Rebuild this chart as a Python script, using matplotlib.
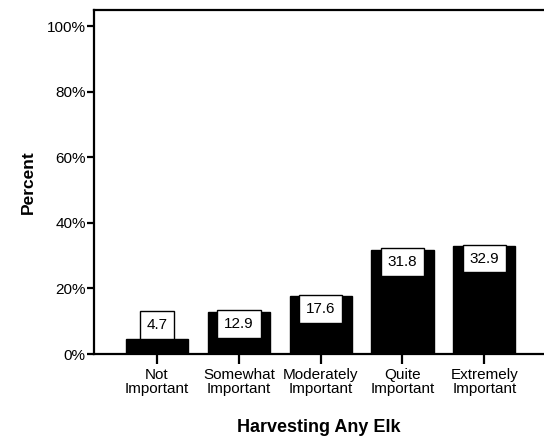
import matplotlib
matplotlib.use("Agg")
import numpy as np
from matplotlib import pyplot as plt

categories = ['Not\nImportant', 'Somewhat\nImportant', 'Moderately\nImportant',
              'Quite\nImportant', 'Extremely\nImportant']
values = [4.7, 12.9, 17.6, 31.8, 32.9]
yticks = [0, 20, 40, 60, 80, 100]
ytick_labels = ['0%', '20%', '40%', '60%', '80%', '100%']

plt.rcParams['font.family'] = ['Liberation Sans', 'DejaVu Sans']

fig = plt.figure(figsize=(5.44, 4.38), dpi=100)
ax = fig.add_axes([94/544, 1 - 354/438, 1 - 94/544, (354 - 10)/438])

x = np.arange(len(values))
ax.bar(x, values, width=0.76, color='black', edgecolor='black', linewidth=1)

ax.set_xlim(-0.77, 4.73)
ax.set_ylim(0, 104.9)
ax.set_yticks(yticks)
ax.set_yticklabels(ytick_labels, fontsize=11)
ax.set_xticks(x)
ax.set_xticklabels(categories, fontsize=11, linespacing=1.0)

for s in ['left', 'bottom', 'top']:
    ax.spines[s].set_linewidth(1.6)
ax.spines['right'].set_visible(False)
ax.tick_params(axis='y', length=5, width=1.6, pad=1)
ax.tick_params(axis='x', length=7, width=1.6, pad=3)

# value boxes hang from the bar top, or sit on it if the bar is too short
box_h = 27
for i, v in enumerate(values):
    bar_px = v * (354 - 10) / 104.9
    if bar_px > box_h + 2:
        off = -box_h / 2 + 1
    else:
        off = box_h / 2
    ax.annotate('%.1f' % v, xy=(i, v), xytext=(0, off * 72 / 100),
                textcoords='offset points', ha='center', va='center',
                fontsize=11,
                bbox=dict(boxstyle='square,pad=0.45', fc='white',
                          ec='black', lw=1.0))

ax.set_ylabel('Percent', fontsize=12.5, fontweight='bold', labelpad=8)
ax.set_xlabel('Harvesting Any Elk', fontsize=13, fontweight='bold', labelpad=17)

fig.savefig('out.png', dpi=100)
